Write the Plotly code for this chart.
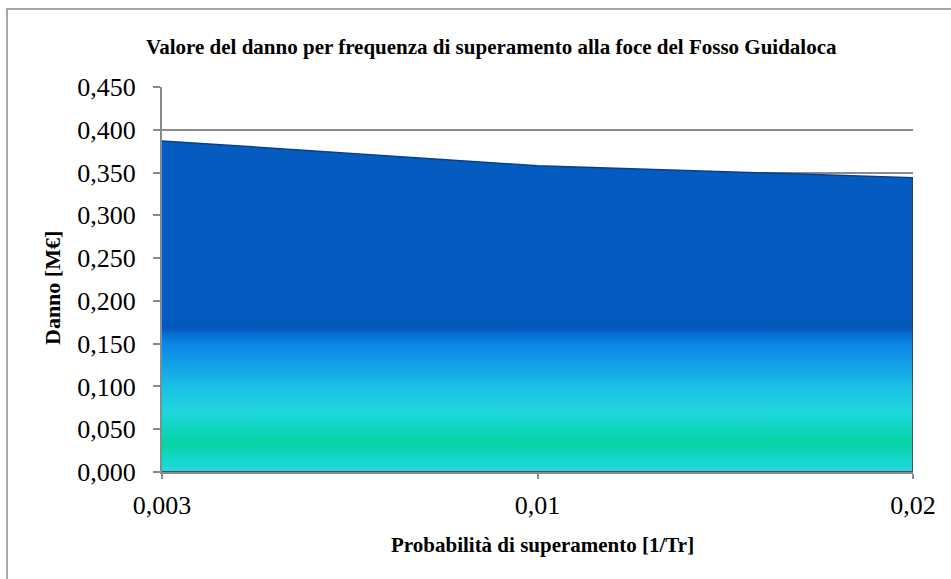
import plotly.graph_objects as go

# Exceedance probability classes (category axis) and damage in M€
probabilita = ["0,003", "0,01", "0,02"]
danno = [0.387, 0.358, 0.344]

# y-axis ticks
y_ticks = [0.0, 0.05, 0.10, 0.15, 0.20, 0.25, 0.30, 0.35, 0.40, 0.45]

titolo = "Valore del danno per frequenza di superamento alla foce del Fosso Guidaloca"
titolo_x = "Probabilità di superamento [1/Tr]"
titolo_y = "Danno [M€]"

Y_MAX = 0.45

# vertical gradient of the area (value on the y axis -> colour)
grad = [
    (0.000, "#22d9e0"),
    (0.012, "#18d7cf"),
    (0.034, "#04d3a2"),
    (0.048, "#0fd4bb"),
    (0.072, "#21d5e0"),
    (0.100, "#1bbfe4"),
    (0.123, "#14a3e7"),
    (0.150, "#0b85e4"),
    (0.160, "#0670d4"),
    (0.168, "#0458ba"),
    (0.185, "#045bbf"),
    (0.450, "#055cc0"),
]
colorscale = [[v / Y_MAX, c] for v, c in grad]

# closed outline: top edge along the data, then down the right side and back along zero
xs = probabilita + [probabilita[-1], probabilita[0]]
ys = danno + [0.0, 0.0]

fig = go.Figure()
fig.add_trace(go.Scatter(
    x=xs, y=ys,
    mode="lines",
    fill="toself",
    fillgradient=dict(type="vertical", colorscale=colorscale, start=0, stop=Y_MAX),
    line=dict(color="#1f3b66", width=1.5),
    hoverinfo="skip",
    showlegend=False,
))

L, R, T, B = 162, 38, 87, 107
W, H = 951, 579
pw, ph = W - L - R, H - T - B

def px_x(px):
    return (px - L) / pw

def px_y(py):
    return (H - B - py) / ph

fig.update_layout(
    width=W, height=H,
    margin=dict(l=L, r=R, t=T, b=B),
    paper_bgcolor="white",
    plot_bgcolor="white",
    separators=",.",
    font=dict(family="Liberation Serif, Times New Roman, serif", color="black"),
    showlegend=False,
)

fig.update_xaxes(
    type="category",
    categoryorder="array", categoryarray=probabilita,
    range=[0, len(probabilita) - 1],
    showgrid=False, zeroline=False,
    showline=True, linecolor="#8a8a8a", linewidth=2,
    ticks="outside", ticklen=5, tickcolor="#8a8a8a", tickwidth=2,
    tickfont=dict(size=26),
    ticklabelstandoff=4,
)
fig.update_yaxes(
    range=[0, Y_MAX],
    tickvals=y_ticks,
    tickformat=".3f",
    showgrid=True, gridcolor="#8c8c8c", gridwidth=2,
    zeroline=False,
    showline=True, linecolor="#8a8a8a", linewidth=2,
    ticks="outside", ticklen=7, tickcolor="#8a8a8a", tickwidth=2,
    tickfont=dict(size=26),
    ticklabelstandoff=12,
)

# chart title
fig.add_annotation(
    text="<b>" + titolo + "</b>",
    xref="paper", yref="paper",
    x=px_x(491), y=px_y(47),
    xanchor="center", yanchor="middle",
    showarrow=False,
    font=dict(size=21),
)
# axis titles
fig.add_annotation(
    text="<b>" + titolo_y + "</b>",
    xref="paper", yref="paper",
    x=px_x(52), y=px_y(288),
    xanchor="center", yanchor="middle",
    textangle=-90,
    showarrow=False,
    font=dict(size=22),
)
fig.add_annotation(
    text="<b>" + titolo_x + "</b>",
    xref="paper", yref="paper",
    x=px_x(542), y=px_y(545),
    xanchor="center", yanchor="middle",
    showarrow=False,
    font=dict(size=21),
)

# chart frame (right and bottom sides fall outside the visible page)
fig.add_shape(
    type="rect", xref="paper", yref="paper",
    x0=px_x(7), x1=px_x(W + 20), y0=px_y(H + 20), y1=px_y(9),
    line=dict(color="#8a8a8a", width=1.5),
    fillcolor="rgba(0,0,0,0)",
    layer="above",
)

fig.write_html("out.html")
